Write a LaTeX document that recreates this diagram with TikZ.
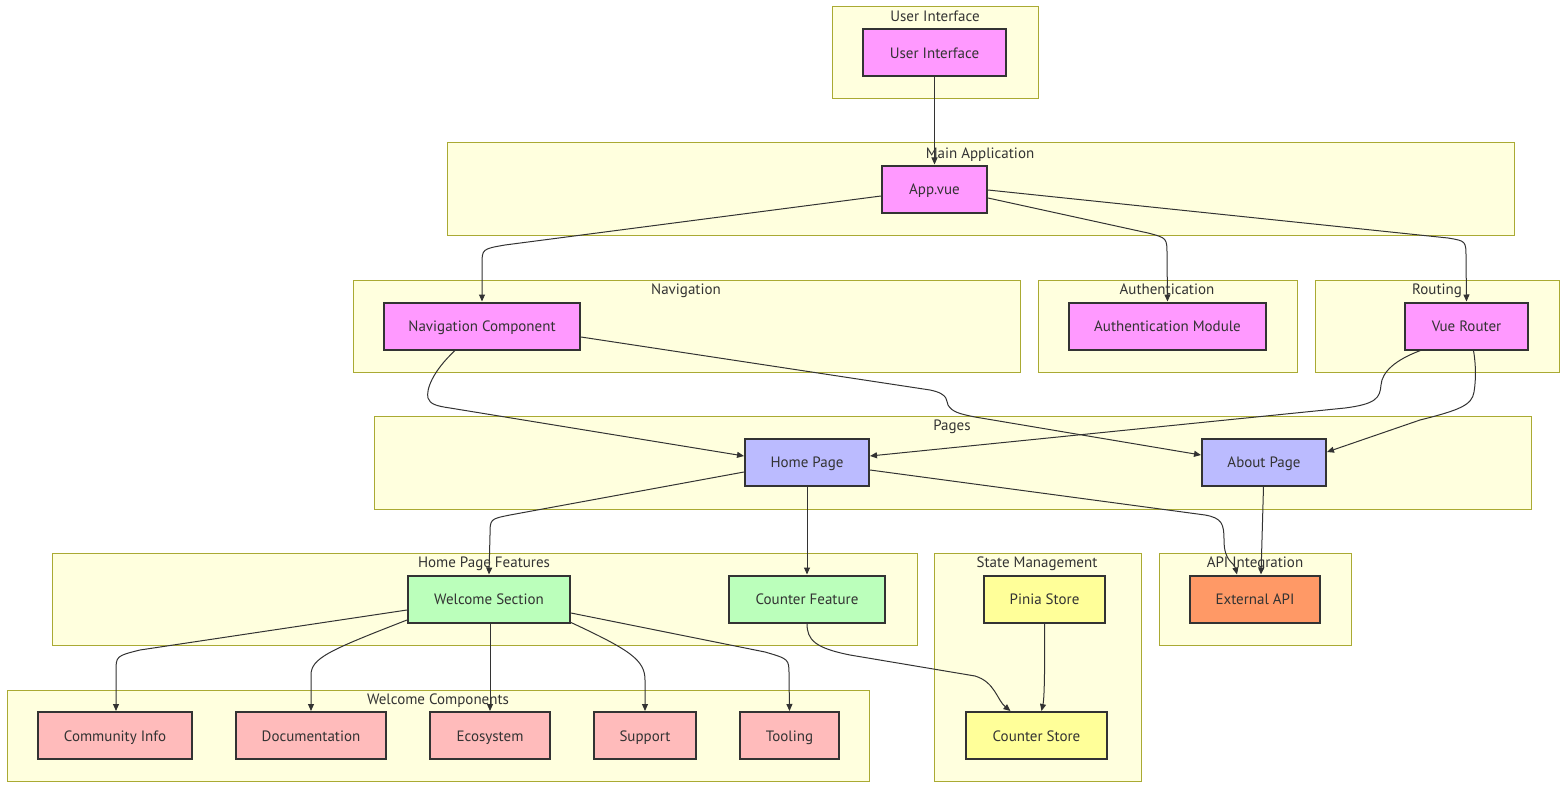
\documentclass[tikz,border=0pt]{standalone}
\usepackage{fontspec}
\setmainfont{PT Sans}
\usetikzlibrary{arrows.meta}
\definecolor{clfill}{HTML}{FFFFDE}
\definecolor{clborder}{HTML}{AAAA33}
\definecolor{txt}{HTML}{333333}
\definecolor{pinkc}{HTML}{FF99FF}
\definecolor{bluec}{HTML}{BBBBFF}
\definecolor{greenc}{HTML}{BBFFBB}
\definecolor{yellowc}{HTML}{FFFF99}
\definecolor{orangec}{HTML}{FF9966}
\definecolor{redc}{HTML}{FFBBBB}
\begin{document}
\begin{tikzpicture}[x=1pt,y=-1pt,
  cluster/.style={draw=clborder, fill=clfill, line width=1pt},
  cltitle/.style={font=\fontsize{15}{17}\selectfont, text=txt, inner sep=0pt, text height=13pt, text depth=1.5pt},
  box/.style={draw=txt, line width=2pt, text=txt, font=\fontsize{15}{17}\selectfont, inner sep=0pt, minimum height=47pt, text height=13pt, text depth=1.5pt},
  edge/.style={draw=txt, line width=1pt, -{Triangle[length=7pt,width=6pt]}}]
\useasboundingbox (0,0) rectangle (1566,789);
% clusters
\draw[cluster] (832,7) rectangle (1038,99);
\node[cltitle] (tUI) at (935,16) {User Interface};
\draw[cluster] (447,143) rectangle (1514,235);
\node[cltitle] (tMain) at (980,153) {Main Application};
\draw[cluster] (353,280) rectangle (1020,372);
\node[cltitle] (tNav) at (686,289) {Navigation};
\draw[cluster] (1038,280) rectangle (1297,372);
\node[cltitle] (tAuth) at (1167,289) {Authentication};
\draw[cluster] (1315,280) rectangle (1559,372);
\node[cltitle] (tRout) at (1437,289) {Routing};
\draw[cluster] (374,416) rectangle (1531,509);
\node[cltitle] (tPages) at (952,425) {Pages};
\draw[cluster] (52,553) rectangle (917,645);
\node[cltitle] (tHPF) at (484,562) {Home Page Features};
\draw[cluster] (934,553) rectangle (1141,781);
\node[cltitle] (tState) at (1037,562) {State Management};
\draw[cluster] (1159,553) rectangle (1351,645);
\node[cltitle] (tAPI) at (1255,562) {API Integration};
\draw[cluster] (7,690) rectangle (869,781);
\node[cltitle] (tWC) at (438,699) {Welcome Components};
% nodes
\node[box, fill=pinkc, minimum width=143pt] (ui) at (934.5,53) {User Interface};
\node[box, fill=pinkc, minimum width=105pt] (app) at (934.5,189) {App.vue};
\node[box, fill=pinkc, minimum width=196pt] (nav) at (482,326) {Navigation Component};
\node[box, fill=pinkc, minimum width=197pt] (auth) at (1167.5,326) {Authentication Module};
\node[box, fill=pinkc, minimum width=123pt] (router) at (1466.5,326) {Vue Router};
\node[box, fill=bluec, minimum width=124pt] (home) at (807,462) {Home Page};
\node[box, fill=bluec, minimum width=124pt] (about) at (1264,462) {About Page};
\node[box, fill=greenc, minimum width=162pt] (welcome) at (489,599) {Welcome Section};
\node[box, fill=greenc, minimum width=156pt] (counter) at (807,599) {Counter Feature};
\node[box, fill=yellowc, minimum width=121pt] (pinia) at (1044.5,599) {Pinia Store};
\node[box, fill=orangec, minimum width=130pt] (ext) at (1255,599) {External API};
\node[box, fill=redc, minimum width=154pt] (comm) at (115,735.5) {Community Info};
\node[box, fill=redc, minimum width=150pt] (doc) at (311,735.5) {Documentation};
\node[box, fill=redc, minimum width=120pt] (eco) at (490,735.5) {Ecosystem};
\node[box, fill=redc, minimum width=102pt] (sup) at (645,735.5) {Support};
\node[box, fill=redc, minimum width=99pt] (tool) at (789.5,735.5) {Tooling};
\node[box, fill=yellowc, minimum width=141pt] (cstore) at (1036.5,735.5) {Counter Store};
% edges
\draw[edge] (ui.south) -- (app.north);
\draw[edge] ([yshift=-7pt]app.west) -- (505,245) .. controls (482,249) .. (482,265) -- (nav.north);
\draw[edge] ([yshift=-9pt]app.east) -- (1148,233) .. controls (1167,238) .. (1167,255) -- (auth.north);
\draw[edge] ([yshift=-1pt]app.east) -- (1448,238) .. controls (1466,241) .. (1466,258) -- (router.north);
\draw[edge] ([xshift=-27pt]nav.south) .. controls (432,372) and (426,390) .. (428,398) .. controls (430,404) and (436,406) .. (450,408) -- ([yshift=6pt]home.west);
\draw[edge] ([yshift=-11pt]nav.east) -- (930,390) .. controls (950,394) and (946,402) .. (948,405) .. controls (952,412) and (960,414) .. (975,417) -- ([yshift=7pt]about.west);
\draw[edge] ([xshift=-46pt]router.south) .. controls (1395,360) and (1382,372) .. (1381,385) .. controls (1380,398) and (1376,404) .. (1345,408) -- ([yshift=6pt]home.east);
\draw[edge] ([xshift=7pt]router.south) .. controls (1476,365) and (1476,380) .. (1474,392) .. controls (1472,405) and (1460,410) .. (1420,420) -- ([yshift=10pt]about.east);
\draw[edge] ([yshift=-10pt]home.west) -- (510,515) .. controls (490,519) .. (490,535) -- (welcome.north);
\draw[edge] (home.south) -- (counter.north);
\draw[edge] ([yshift=-8pt]home.east) -- (1205,515) .. controls (1222,518) and (1224,524) .. (1224,540) .. controls (1224,562) and (1234,562) .. ([xshift=-18pt]ext.north);
\draw[edge] ([xshift=-0.5pt]about.south) -- ([xshift=6pt]ext.north);
\draw[edge] ([yshift=-11pt]welcome.west) -- (140,650) .. controls (116,656) .. (116,672) -- ([xshift=1pt]comm.north);
\draw[edge] ([yshift=-21pt]welcome.west) .. controls (330,650) and (311,658) .. (311,675) -- (doc.north);
\draw[edge] ([xshift=1pt]welcome.south) -- (eco.north);
\draw[edge] ([yshift=-23.5pt]welcome.east) .. controls (630,650) and (645,660) .. (645,680) -- (sup.north);
\draw[edge] ([yshift=-14pt]welcome.east) -- (765,652) .. controls (789,659) .. (789,675) -- (tool.north);
\draw[edge] (counter.south) .. controls (807,640) and (815,648) .. (850,655) -- (975,676) .. controls (995,682) and (997,700) .. ([xshift=-26pt]cstore.north);
\draw[edge] (pinia.south) .. controls (1045,680) and (1044,700) .. ([xshift=5pt]cstore.north);
\end{tikzpicture}
\end{document}
